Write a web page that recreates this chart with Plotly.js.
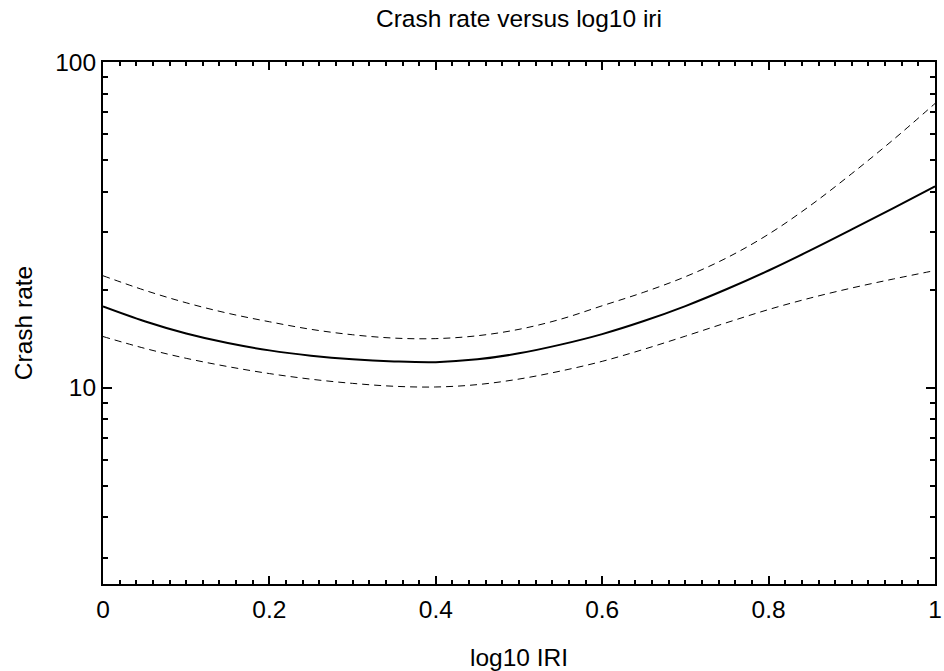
<!DOCTYPE html>
<html>
<head>
<meta charset="utf-8">
<script src="https://cdn.plot.ly/plotly-3.0.1.min.js"></script>
<style>html,body{margin:0;padding:0;background:#fff;}#chart{width:944px;height:671px;}</style>
</head>
<body>
<div id="chart"></div>
<script>
const logIRI = [0, 0.05, 0.1, 0.15, 0.2, 0.25, 0.3, 0.35, 0.4, 0.45, 0.5, 0.55, 0.6, 0.65, 0.7, 0.75, 0.8, 0.85, 0.9, 0.95, 1.0];
const crashRate = [17.77, 16.01, 14.68, 13.72, 13.03, 12.55, 12.23, 12.05, 11.99, 12.23, 12.76, 13.57, 14.62, 16.03, 17.82, 20.10, 22.91, 26.40, 30.62, 35.61, 41.53];
const upperCI = [22.08, 19.93, 18.24, 16.94, 15.95, 15.12, 14.55, 14.21, 14.16, 14.45, 15.12, 16.24, 17.86, 19.65, 21.93, 25.08, 29.62, 36.24, 45.45, 57.79, 74.58];
const lowerCI = [14.37, 13.22, 12.32, 11.62, 11.06, 10.63, 10.32, 10.11, 10.06, 10.23, 10.64, 11.26, 12.06, 13.13, 14.41, 15.86, 17.39, 18.86, 20.25, 21.58, 22.91];
const yTickVals = [10, 100];
const yTickText = ['10', '100'];
const yMinorVals = [3, 4, 5, 6, 7, 8, 9, 20, 30, 40, 50, 60, 70, 80, 90];

const font = {family: 'Liberation Sans, Arial, sans-serif', size: 24.5, color: '#000'};

const traces = [
  {x: logIRI, y: upperCI, mode: 'lines', line: {color: '#000', width: 1, dash: '7px,5px', shape: 'spline', smoothing: 1}, hoverinfo: 'skip'},
  {x: logIRI, y: lowerCI, mode: 'lines', line: {color: '#000', width: 1, dash: '7px,5px', shape: 'spline', smoothing: 1}, hoverinfo: 'skip'},
  {x: logIRI, y: crashRate, mode: 'lines', line: {color: '#000', width: 2, shape: 'spline', smoothing: 1}}
];

const layout = {
  width: 944, height: 671,
  margin: {l: 103, r: 9, t: 62, b: 87},
  paper_bgcolor: '#fff', plot_bgcolor: '#fff',
  showlegend: false,
  font: font,
  title: {text: 'Crash rate versus log10 iri', font: font, x: 0.5, xref: 'paper', xanchor: 'center', y: 0.972, yref: 'container', yanchor: 'middle'},
  xaxis: {
    range: [0, 1], dtick: 0.2, tick0: 0,
    showgrid: false, zeroline: false,
    showline: true, linecolor: '#000', linewidth: 2, mirror: 'ticks',
    ticks: 'inside', ticklen: 8, tickwidth: 2, tickcolor: '#000',
    tickfont: font, ticklabelstandoff: 3,
    minor: {dtick: 0.02, ticks: 'inside', ticklen: 4, tickwidth: 2, tickcolor: '#000', showgrid: false},
    title: {text: 'log10 IRI', font: font, standoff: 28}
  },
  yaxis: {
    type: 'log', range: [Math.log10(2.5), 2],
    tickmode: 'array', tickvals: yTickVals, ticktext: yTickText,
    showgrid: false, zeroline: false,
    showline: true, linecolor: '#000', linewidth: 2, mirror: 'ticks',
    ticks: 'inside', ticklen: 9, tickwidth: 2, tickcolor: '#000',
    tickfont: font,
    minor: {tickmode: 'array', tickvals: yMinorVals, ticks: 'inside', ticklen: 5, tickwidth: 2, tickcolor: '#000', showgrid: false},
    title: {text: 'Crash rate', font: font, standoff: 16}
  }
};

Plotly.newPlot('chart', traces, layout, {staticPlot: true, displayModeBar: false});
</script>
</body>
</html>
